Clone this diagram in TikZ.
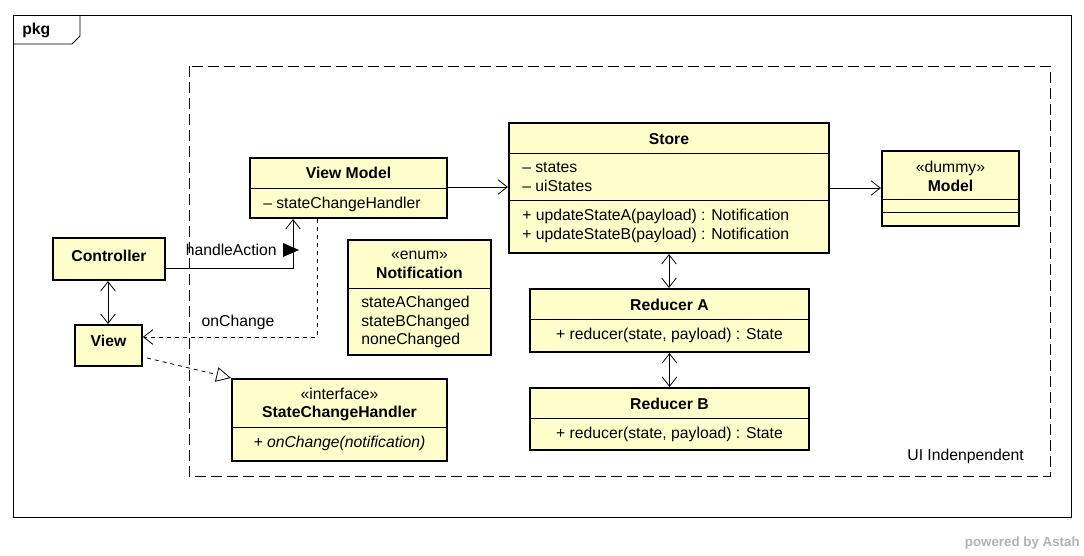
\documentclass[tikz,border=0pt]{standalone}
\usepackage{fontspec}
\setmainfont{Liberation Sans}
\usetikzlibrary{arrows.meta,calc}
\definecolor{classfill}{RGB}{255,255,204}
\newcommand{\stereo}[1]{\textless\textless#1\textgreater\textgreater}
\tikzstyle{cls} = [draw, line width=1.6pt, fill=classfill, rectangle, inner sep=0pt]
\tikzstyle{txt} = [inner sep=0pt, font=\fontsize{11.8}{14}\selectfont]
\tikzstyle{hd} = [txt, font=\fontsize{11.8}{14}\selectfont\bfseries]
\tikzstyle{open} = [-{Straight Barb[length=7pt,width=11pt]}, line width=0.6pt]
\tikzstyle{both} = [{Straight Barb[length=7pt,width=11pt]}-{Straight Barb[length=7pt,width=11pt]}, line width=0.6pt]

\begin{document}
\begin{tikzpicture}[x=0.75pt, y=-0.75pt]
        \useasboundingbox (0,0) rectangle (1084,556);
        % frame
        \draw[line width=0.6pt] (13,15) rectangle (1071,517);
        \draw[line width=0.6pt] (13,44) -- (72,44) -- (80,36) -- (80,15);
        \node [hd, anchor=west] (pkg) at (22,30) {pkg};
        \draw[dashed, line width=0.6pt, dash pattern=on 8pt off 4pt] (189,66) rectangle (1050,476);
        \node [txt, anchor=east] (uiind) at (1024,456) {UI Indenpendent};

        % classes
        \node [cls, minimum width=84pt, minimum height=31.5pt] (ctrl) at (109,259) {};
        \node [hd] at (109,256) {Controller};
        \node [cls, minimum width=50pt, minimum height=30.75pt] (view) at (108.5,345.5) {};
        \node [hd] at (108.5,341) {View};

        \node [cls, minimum width=147.75pt, minimum height=45pt] (vm) at (348.5,188) {};
        \draw[line width=0.6pt] (250,188) -- (447,188);
        \node [hd] at (348.5,173) {View Model};
        \node [txt, anchor=west] at (263,204) {\textendash{} stateChangeHandler};

        \node [cls, minimum width=107.25pt, minimum height=86.25pt] (notif) at (419.5,297.5) {};
        \draw[line width=0.6pt] (348,288) -- (491,288);
        \node [txt] at (419.5,255) {\stereo{enum}};
        \node [hd] at (419.5,273) {Notification};
        \node [txt, anchor=west, align=left] at (361,322) {stateAChanged\\stateBChanged\\noneChanged};

        \node [cls, minimum width=161.25pt, minimum height=61.5pt] (sch) at (339.5,420) {};
        \draw[line width=0.6pt] (232,427) -- (447,427);
        \node [txt] at (339.5,394) {\stereo{interface}};
        \node [hd] at (339.5,413) {StateChangeHandler};
        \node [txt, font=\fontsize{11.8}{14}\selectfont\itshape] at (339.5,443) {+ onChange(notification)};

        \node [cls, minimum width=240pt, minimum height=97.5pt] (store) at (669,188) {};
        \draw[line width=0.6pt] (509,153) -- (829,153);
        \draw[line width=0.6pt] (509,200) -- (829,200);
        \node [hd] at (669,139) {Store};
        \node [txt, anchor=west, align=left] at (522,177) {\textendash{} states\\\textendash{} uiStates};
        \node [txt, anchor=west, align=left] at (522,226) {+ updateStateA(payload) : Notification\\+ updateStateB(payload) : Notification};

        \node [cls, minimum width=102.75pt, minimum height=56.25pt] (model) at (950.5,188.5) {};
        \draw[line width=0.6pt] (882,199) -- (1019,199);
        \draw[line width=0.6pt] (882,212) -- (1019,212);
        \node [txt] at (950.5,168) {\stereo{dummy}};
        \node [hd] at (950.5,186) {Model};

        \node [cls, minimum width=209.25pt, minimum height=47.25pt] (ra) at (669.5,320.5) {};
        \draw[line width=0.6pt] (530,319) -- (809,319);
        \node [hd] at (669.5,305) {Reducer A};
        \node [txt] at (669.5,335) {+ reducer(state, payload) : State};

        \node [cls, minimum width=209.25pt, minimum height=46.5pt] (rb) at (669.5,419) {};
        \draw[line width=0.6pt] (530,418) -- (809,418);
        \node [hd] at (669.5,404) {Reducer B};
        \node [txt] at (669.5,434) {+ reducer(state, payload) : State};

        % connectors
        \draw[open] (ctrl.east |- 0,268) -| (vm.south -| 293,0);
        \node [txt, anchor=east] (ha) at (277,250) {handleAction};
        \fill (283,243) -- (299,250) -- (283,257) -- cycle;
        \draw[both] (ctrl.south -| 108,0) -- (view.north -| 108,0);
        \draw[open, dashed] (vm.south -| 317,0) |- (view.east |- 0,337);
        \node [txt] (oc) at (238,322) {onChange};
        \draw[dashed, line width=0.6pt, -{Triangle[open,length=11pt,width=11pt]}] (147,358) -- (sch.north west);
        \draw[open] (vm.east |- 0,187) -- (store.west |- 0,187);
        \draw[open] (store.east |- 0,188) -- (model.west |- 0,188);
        \draw[both] (store.south) -- (ra.north -| store.south);
        \draw[both] (ra.south) -- (rb.north);

        \node [txt, text=gray!60, font=\fontsize{10}{12}\selectfont\bfseries, anchor=east] (astah) at (1080,543) {powered by Astah};
    \end{tikzpicture}
\end{document}
